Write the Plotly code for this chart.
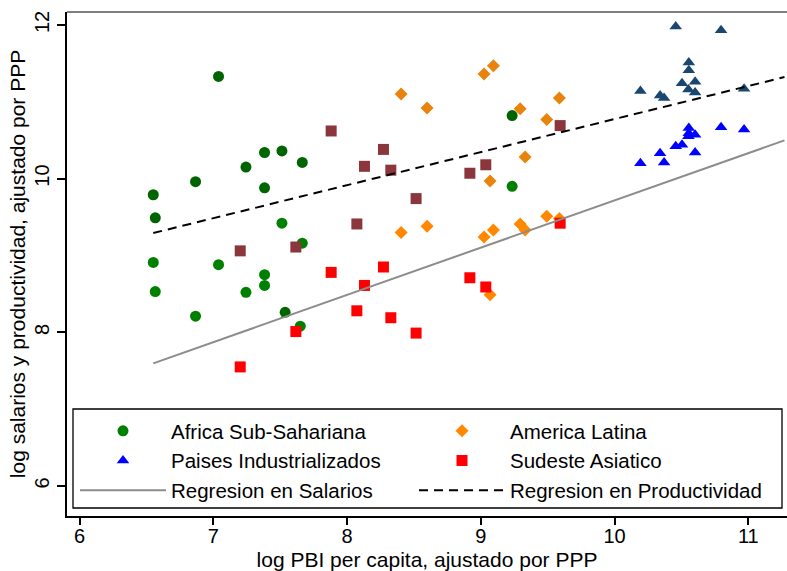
import plotly.graph_objects as go

# ---------------- data ----------------
# Africa Sub-Sahariana
afr_x = [6.551, 6.867, 7.244, 7.383, 7.513, 7.665, 7.383, 6.566, 7.537, 7.039, 9.234]
afr_prod = [9.79, 9.96, 10.15, 10.34, 10.36, 10.21, 9.88, 9.49, 8.26, 11.33, 10.82]
afr_wx = [7.513, 7.665, 6.551, 7.039, 7.383, 7.383, 6.566, 7.244, 6.867, 7.650, 9.234]
afr_wage = [9.42, 9.16, 8.91, 8.88, 8.75, 8.61, 8.53, 8.52, 8.21, 8.08, 9.90]

# America Latina
lat_x = [8.404, 8.598, 9.024, 9.069, 9.094, 9.294, 9.331, 9.493, 9.587]
lat_prod = [11.10, 10.92, 11.36, 9.97, 11.47, 10.91, 10.28, 10.77, 11.05]
lat_wx = [8.404, 8.598, 9.024, 9.069, 9.094, 9.294, 9.331, 9.493, 9.587]
lat_wage = [9.30, 9.38, 9.24, 8.49, 9.33, 9.41, 9.33, 9.51, 9.48]

# Paises Industrializados
ind_x = [10.457, 10.796, 10.193, 10.340, 10.370, 10.555, 10.555, 10.504, 10.602, 10.552, 10.602, 10.968]
ind_prod = [11.98, 11.93, 11.14, 11.08, 11.05, 11.51, 11.41, 11.24, 11.26, 11.16, 11.12, 11.17]
ind_wage = [10.42, 10.67, 10.20, 10.33, 10.21, 10.66, 10.59, 10.44, 10.57, 10.55, 10.34, 10.64]

# Sudeste Asiatico
asi_x = [7.201, 7.617, 7.881, 8.073, 8.130, 8.272, 8.327, 8.516, 8.918, 9.037, 9.593]
asi_prod = [9.06, 9.11, 10.62, 9.41, 10.16, 10.38, 10.11, 9.74, 10.07, 10.18, 10.69]
asi_wage = [7.55, 8.01, 8.78, 8.28, 8.61, 8.85, 8.19, 7.99, 8.71, 8.59, 9.42]

# Regression lines (intercept, slope) and their x span
fit_x = [6.551, 11.27]
wage_fit = (3.567, 0.615)
prod_fit = (6.475, 0.430)

x_ticks = [6, 7, 8, 9, 10, 11]
y_ticks = [6, 8, 10, 12]

names = ["Africa Sub-Sahariana", "America Latina", "Paises Industrializados",
         "Sudeste Asiatico", "Regresion en Salarios", "Regresion en Productividad"]

FONT = "Liberation Sans, Arial, Helvetica, sans-serif"

fig = go.Figure()

def pts(x, y, sym, color, size, name=None, show=False, leg="legend"):
    fig.add_trace(go.Scatter(
        x=x, y=y, mode="markers", name=name, showlegend=show, legend=leg,
        marker=dict(symbol=sym, color=color, size=size, line=dict(width=0)),
    ))

pts(afr_x, afr_prod, "circle", "#006400", 11)
pts(afr_wx, afr_wage, "circle", "#008000", 11, names[0], True, "legend")
pts(lat_x, lat_prod, "diamond", "#E8840C", 10)
pts(lat_wx, lat_wage, "diamond", "#FF8800", 10, names[1], True, "legend2")
pts(ind_x, ind_prod, "triangle-up", "#1A476F", 11)
pts(ind_x, ind_wage, "triangle-up", "#0000FF", 11, names[2], True, "legend")
pts(asi_x, asi_prod, "square", "#8B363C", 11)
pts(asi_x, asi_wage, "square", "#FF0000", 11, names[3], True, "legend2")

fig.add_trace(go.Scatter(
    x=fit_x, y=[wage_fit[0] + wage_fit[1] * v for v in fit_x], mode="lines",
    name=names[4], legend="legend", line=dict(color="#8C8C8C", width=2)))
fig.add_trace(go.Scatter(
    x=fit_x, y=[prod_fit[0] + prod_fit[1] * v for v in fit_x], mode="lines",
    name=names[5], legend="legend2", line=dict(color="black", width=2, dash="9px,6px")))

W, H = 787, 571
ml, mr, mt, mb = 67, 0, 12, 55
pw, ph = W - ml - mr, H - mt - mb

def px2x(p):
    return (p - ml) / pw

def py2y(p):
    return (H - mb - p) / ph

def leg(xpix):
    return dict(
        orientation="v", x=px2x(xpix), y=py2y(411), xanchor="left", yanchor="top",
        itemwidth=86, font=dict(family=FONT, size=20.5, color="black"),
        bgcolor="rgba(0,0,0,0)", borderwidth=0, traceorder="normal",
        itemclick=False, itemdoubleclick=False,
    )

fig.update_layout(
    width=W, height=H,
    margin=dict(l=ml, r=mr, t=mt, b=mb, pad=0, autoexpand=False),
    paper_bgcolor="white", plot_bgcolor="white",
    font=dict(family=FONT, color="black", size=20),
    showlegend=True,
    legend=leg(75),
    legend2=leg(414),
    xaxis=dict(
        range=[5.906, 11.289], tickvals=x_ticks, ticktext=[str(v) for v in x_ticks],
        showgrid=False, zeroline=False, showline=True, linecolor="black", linewidth=2,
        ticks="outside", ticklen=7, tickwidth=1.5, tickcolor="black",
        tickfont=dict(size=20, family=FONT), automargin=False, ticklabelstandoff=-6,
        title=dict(text="log PBI per capita, ajustado por PPP", font=dict(size=21, family=FONT), standoff=10),
    ),
    yaxis=dict(
        range=[5.61, 12.168], tickvals=y_ticks, ticktext=[str(v) for v in y_ticks],
        showgrid=False, zeroline=False, showline=True, linecolor="black", linewidth=2,
        ticks="outside", ticklen=8, tickwidth=1.5, tickcolor="black", tickangle=-90,
        tickfont=dict(size=20, family=FONT), automargin=False,
        title=dict(text="log salarios y productividad, ajustado por PPP", font=dict(size=21, family=FONT), standoff=0),
    ),
    shapes=[
        dict(type="line", xref="paper", yref="paper", x0=0, x1=1, y0=1, y1=1,
             line=dict(color="#555555", width=1.5)),
        dict(type="rect", xref="paper", yref="paper",
             x0=px2x(73), x1=px2x(782), y0=py2y(508), y1=py2y(409),
             line=dict(color="black", width=1.3), fillcolor="rgba(0,0,0,0)", layer="above"),
    ],
)

fig.write_html("out.html")
